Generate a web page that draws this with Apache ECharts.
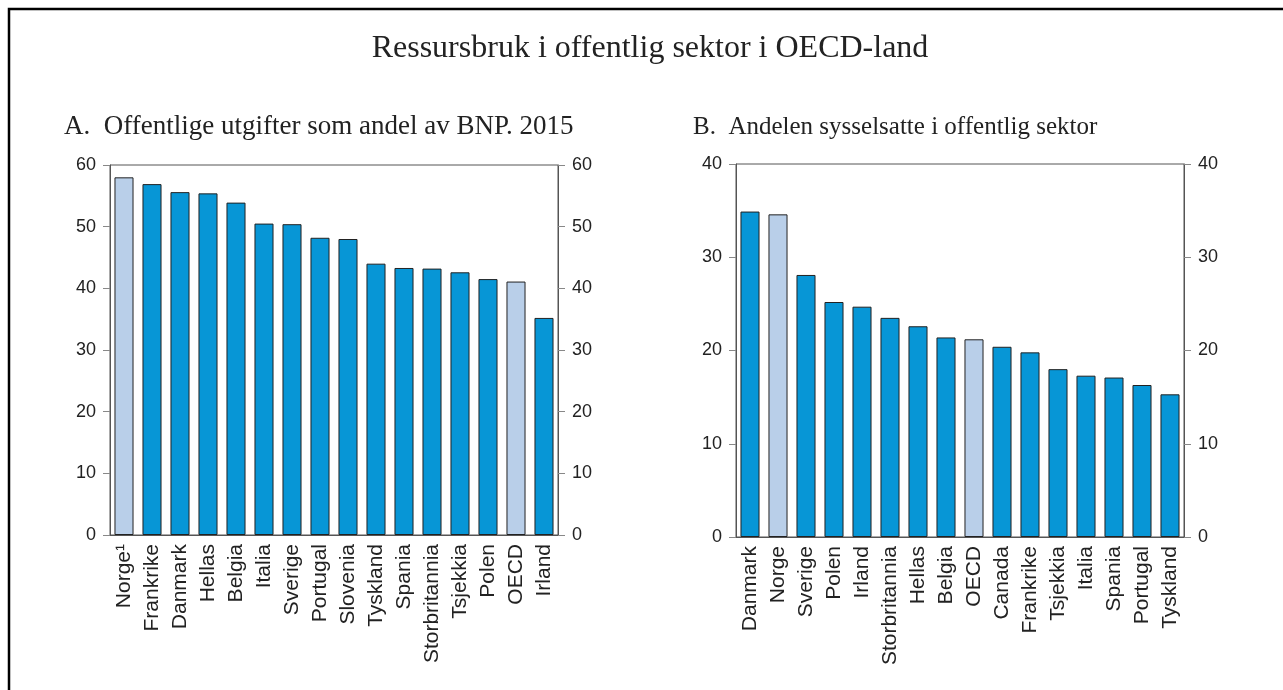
<!DOCTYPE html>
<html>
<head>
<meta charset="utf-8">
<script src="https://cdn.jsdelivr.net/npm/echarts@6/dist/echarts.min.js"></script>
<style>
html,body{margin:0;padding:0;background:#fff;}
#chart{width:1283px;height:690px;}
</style>
</head>
<body>
<div id="chart"></div>
<script>
const mainTitle = 'Ressursbruk i offentlig sektor i OECD-land';
const titleA = 'A.  Offentlige utgifter som andel av BNP. 2015';
const titleB = 'B.  Andelen sysselsatte i offentlig sektor';

const categoriesA = ['Norge¹','Frankrike','Danmark','Hellas','Belgia','Italia','Sverige','Portugal','Slovenia','Tyskland','Spania','Storbritannia','Tsjekkia','Polen','OECD','Irland'];
const valuesA = [58.0,56.9,55.6,55.4,53.9,50.5,50.4,48.2,48.0,44.0,43.3,43.2,42.6,41.5,41.1,35.2];

const categoriesB = ['Danmark','Norge','Sverige','Polen','Irland','Storbritannia','Hellas','Belgia','OECD','Canada','Frankrike','Tsjekkia','Italia','Spania','Portugal','Tyskland'];
const valuesB = [34.9,34.6,28.1,25.2,24.7,23.5,22.6,21.4,21.2,20.4,19.8,18.0,17.3,17.1,16.3,15.3];

const ticksA = [0,10,20,30,40,50,60];
const ticksB = [0,10,20,30,40];

const highlighted = ['Norge¹','Norge','OECD'];

const DARK = '#0796D6';
const LIGHT = '#B9CFE9';
const AXIS = '#555';
const SANS = '"Liberation Sans", Arial, sans-serif';
const SERIF = '"Liberation Serif", "Times New Roman", serif';

function yAxes(gridIndex, ticks, pos) {
  return {
    type: 'value',
    gridIndex: gridIndex,
    position: pos,
    min: ticks[0],
    max: ticks[ticks.length - 1],
    interval: ticks[1] - ticks[0],
    axisLine: {show: true, lineStyle: {color: AXIS, width: 1}},
    axisTick: {show: true, inside: false, length: 7, lineStyle: {color: '#888'}},
    axisLabel: {color: '#222', fontFamily: SANS, fontSize: 18, margin: 14},
    splitLine: {show: false}
  };
}

function xAxis(gridIndex, cats) {
  return {
    type: 'category',
    gridIndex: gridIndex,
    data: cats,
    axisLine: {show: true, lineStyle: {color: AXIS}},
    axisTick: {show: false},
    axisLabel: {rotate: 90, color: '#222', fontFamily: SANS, fontSize: 21, margin: 9, interval: 0}
  };
}

function barSeries(idx, cats, vals, yIdx) {
  return {
    type: 'bar',
    xAxisIndex: idx,
    yAxisIndex: yIdx,
    barCategoryGap: '32%',
    data: vals.map((v, i) => ({
      value: v,
      itemStyle: {color: highlighted.includes(cats[i]) ? LIGHT : DARK}
    })),
    itemStyle: {borderColor: '#222', borderWidth: 1},
    animation: false
  };
}

const chart = echarts.init(document.getElementById('chart'), null, {renderer: 'canvas'});
chart.setOption({
  backgroundColor: '#fff',
  animation: false,
  graphic: [
    {type: 'rect', shape: {x: 9, y: 9, width: 1300, height: 720}, style: {fill: 'none', stroke: '#000', lineWidth: 2.5}, silent: true},
    {type: 'text', x: 650, y: 49, style: {text: mainTitle, font: '32px ' + SERIF, fill: '#222', textAlign: 'center', textVerticalAlign: 'middle'}},
    {type: 'text', x: 64, y: 127, style: {text: titleA, font: '27px ' + SERIF, fill: '#222', textAlign: 'left', textVerticalAlign: 'middle'}},
    {type: 'text', x: 693, y: 127, style: {text: titleB, font: '25px ' + SERIF, fill: '#222', textAlign: 'left', textVerticalAlign: 'middle'}}
  ],
  grid: [
    {left: 110, right: 725, top: 165, bottom: 155, show: true, borderColor: AXIS, borderWidth: 1, backgroundColor: 'transparent'},
    {left: 736, right: 99, top: 164, bottom: 153, show: true, borderColor: AXIS, borderWidth: 1, backgroundColor: 'transparent'}
  ],
  xAxis: [xAxis(0, categoriesA), xAxis(1, categoriesB)],
  yAxis: [
    yAxes(0, ticksA, 'left'), yAxes(0, ticksA, 'right'),
    yAxes(1, ticksB, 'left'), yAxes(1, ticksB, 'right')
  ],
  series: [
    barSeries(0, categoriesA, valuesA, 0),
    barSeries(1, categoriesB, valuesB, 2)
  ]
});
</script>
</body>
</html>
